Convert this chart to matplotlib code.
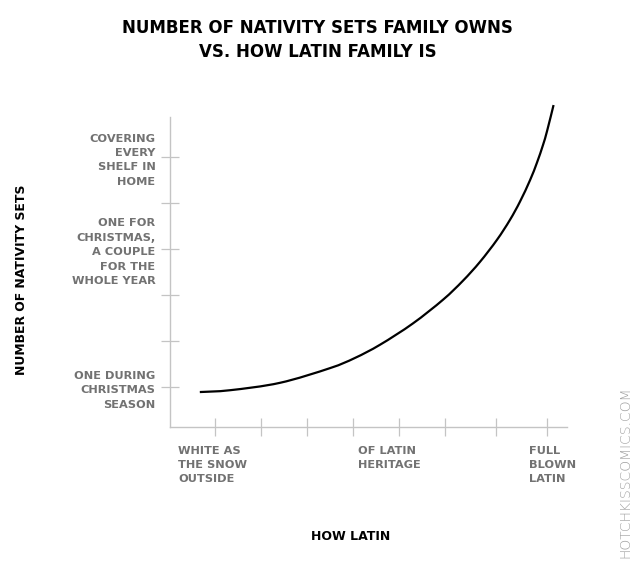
import matplotlib
matplotlib.use("Agg")
import matplotlib.pyplot as plt
import matplotlib.transforms as mtransforms
from matplotlib.path import Path
from matplotlib.patches import PathPatch

# curve (x: how latin, y: number of nativity sets)
curve_x = [0.67, 1.33, 2.41, 3.50, 4.04, 4.59, 5.30, 5.96, 6.39, 6.76,
           7.13, 7.41, 7.63, 7.85, 8.00, 8.13, 8.22, 8.36]
curve_y = [0.89, 0.93, 1.09, 1.41, 1.63, 1.92, 2.38, 2.90, 3.31, 3.72,
           4.20, 4.63, 5.03, 5.50, 5.88, 6.26, 6.57, 7.13]

x_ticks = [1, 2, 3, 4, 5, 6, 7.11, 8.22]
x_labels = ["WHITE AS\nTHE SNOW\nOUTSIDE", "", "", "", "OF LATIN\nHERITAGE", "", "",
            "FULL\nBLOWN\nLATIN"]
y_ticks = [1, 2, 3, 4, 5, 6]
y_labels = ["ONE DURING\nCHRISTMAS\nSEASON", "", "",
            "ONE FOR\nCHRISTMAS,\nA COUPLE\nFOR THE\nWHOLE YEAR", "",
            "COVERING\nEVERY\nSHELF IN\nHOME"]

title = "NUMBER OF NATIVITY SETS FAMILY OWNS\nVS. HOW LATIN FAMILY IS"
x_title = "HOW LATIN"
y_title = "NUMBER OF NATIVITY SETS"
credit = "HOTCHKISSCOMICS.COM"

axis_grey = "#c4c4c4"
label_grey = "#727272"


def smooth_path(xs, ys):
    """Bezier path going through every point (Catmull-Rom control points)"""
    pts = list(zip(xs, ys))
    verts = [pts[0]]
    codes = [Path.MOVETO]
    for i in range(len(pts) - 1):
        p0 = pts[max(i - 1, 0)]
        p1 = pts[i]
        p2 = pts[i + 1]
        p3 = pts[min(i + 2, len(pts) - 1)]
        c1 = (p1[0] + (p2[0] - p0[0]) / 6, p1[1] + (p2[1] - p0[1]) / 6)
        c2 = (p2[0] - (p3[0] - p1[0]) / 6, p2[1] - (p3[1] - p1[1]) / 6)
        verts += [c1, c2, p2]
        codes += [Path.CURVE4] * 3
    return Path(verts, codes)


fig = plt.figure(figsize=(6.35, 5.76), dpi=100)
ax = fig.add_axes([170 / 635, 149 / 576, 397 / 635, 310 / 576])

ax.add_patch(PathPatch(smooth_path(curve_x, curve_y), facecolor="none",
                       edgecolor="black", lw=1.6, clip_on=False, capstyle="butt"))

ax.set_xlim(0.022, 8.652)
ax.set_ylim(0.13, 6.87)

for s in ["top", "right"]:
    ax.spines[s].set_visible(False)
for s in ["left", "bottom"]:
    ax.spines[s].set_color(axis_grey)
    ax.spines[s].set_linewidth(1.0)

ax.set_xticks(x_ticks)
ax.set_xticklabels(x_labels)
ax.set_yticks(y_ticks)
ax.set_yticklabels(y_labels)
ax.tick_params(axis="both", direction="inout", length=13, width=0.9, color=axis_grey,
               labelcolor=label_grey, labelsize=8.2)
ax.tick_params(axis="x", pad=7)
ax.tick_params(axis="y", pad=4)

for lab in ax.get_yticklabels():
    lab.set_fontweight("bold")
    lab.set_multialignment("right")
    lab.set_linespacing(1.55)

# x labels are left aligned, shifted from their ticks
shifts = [-37, 0, 0, 0, -41, 0, 0, -18]
for lab, dx in zip(ax.get_xticklabels(), shifts):
    lab.set_fontweight("bold")
    lab.set_horizontalalignment("left")
    lab.set_multialignment("left")
    lab.set_linespacing(1.5)
    lab.set_transform(lab.get_transform() + mtransforms.ScaledTranslation(dx / 100, 0, fig.dpi_scale_trans))

fig.text(0.5, 1 - 40 / 576, title, ha="center", va="center", fontsize=12,
         fontweight="bold", linespacing=1.4)
fig.text(351 / 635, 1 - 537 / 576, x_title, ha="center", va="center", fontsize=9,
         fontweight="bold")
fig.text(22 / 635, 1 - 280 / 576, y_title, ha="center", va="center", fontsize=8.9,
         fontweight="bold", rotation=90)
fig.text(625 / 635, 1 - 472 / 576, credit, ha="center", va="center", fontsize=10,
         color="#a0a0a0", rotation=90, fontweight="light")

fig.savefig("out.png", dpi=100)
